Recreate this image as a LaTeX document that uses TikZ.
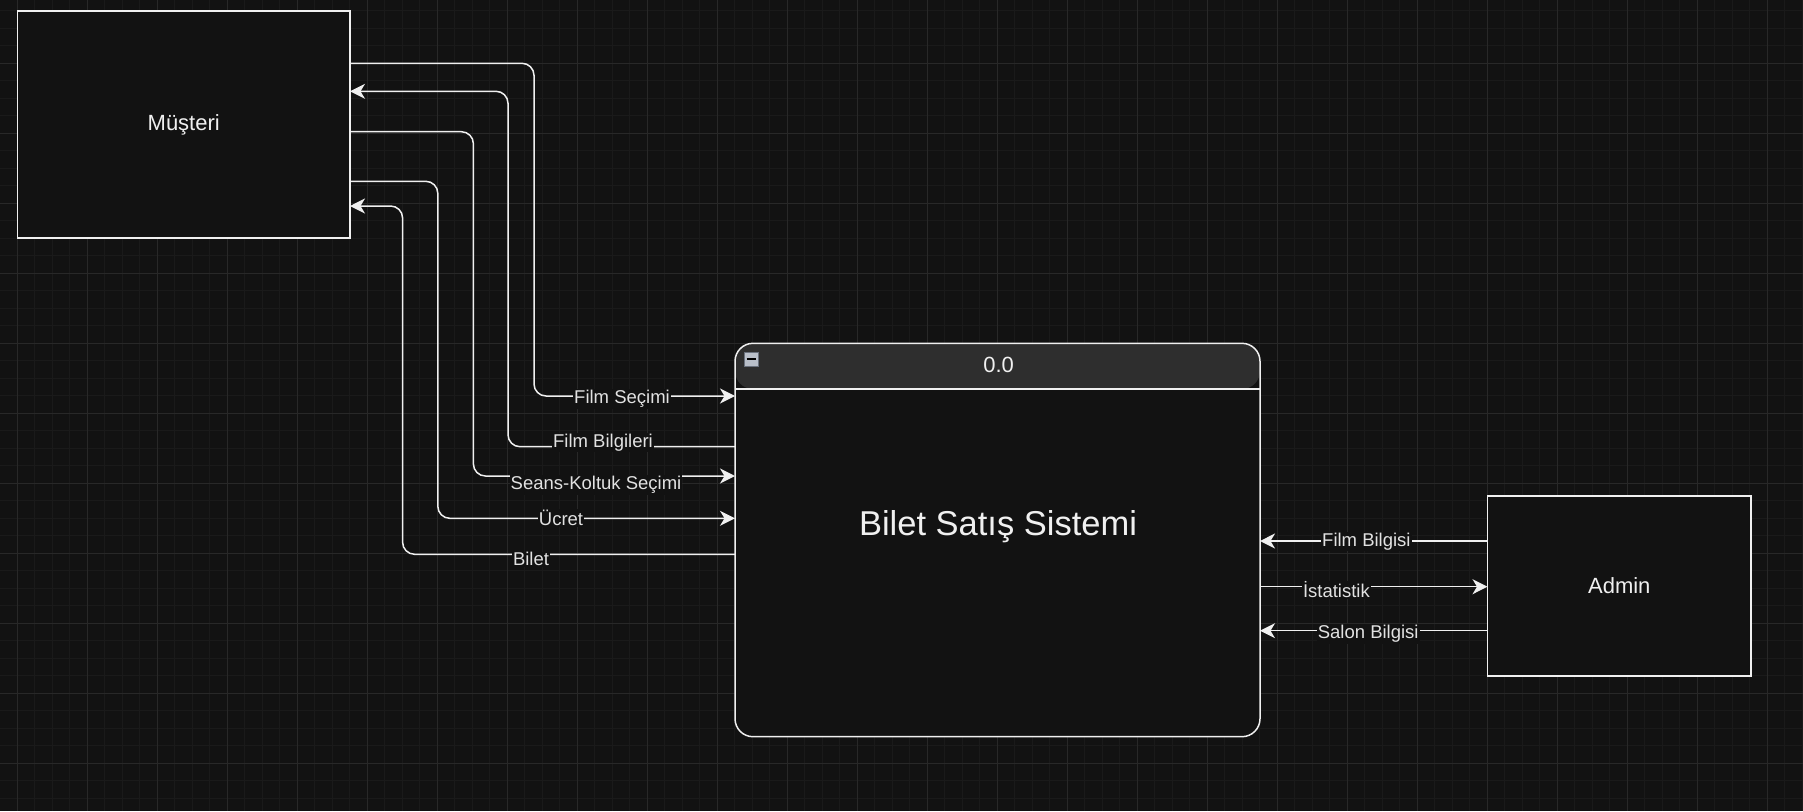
\documentclass[tikz,border=0pt]{standalone}
\usepackage{fontspec}
\setmainfont{Liberation Sans}
\usetikzlibrary{arrows.meta}
\definecolor{bgc}{HTML}{121212}
\definecolor{minorc}{HTML}{1A1A1A}
\definecolor{majorc}{HTML}{282828}
\definecolor{strk}{HTML}{F0F0F0}
\definecolor{lblc}{HTML}{E2E2E2}
\definecolor{headc}{HTML}{2E2E2E}
\definecolor{iconfill}{HTML}{B9BFC9}
\definecolor{icondraw}{HTML}{6A717D}
\begin{document}
\begin{tikzpicture}[x=1pt,y=-1pt,
  entity/.style={draw=strk, fill=bgc, line width=1.5pt, outer sep=0pt, inner sep=0pt,
    text=strk, font=\fontsize{22}{26}\selectfont},
  flow/.style={draw=strk, line width=1.5pt, rounded corners=12pt,
    -{Stealth[length=15pt,width=15pt,inset=4.5pt]}},
  lbl/.style={fill=bgc, text=lblc, inner sep=1pt, font=\fontsize{18.5}{22}\selectfont}
]
\useasboundingbox (0,0) rectangle (1803,811);
\fill[bgc] (0,0) rectangle (1803,811);
% grid
\foreach \k in {0,...,103} {\draw[minorc, line width=1pt] ({17.5*\k-0.3},0) -- ({17.5*\k-0.3},811);}
\foreach \k in {-1,...,46} {\draw[minorc, line width=1pt] (0,{10.8+17.5*\k}) -- (1803,{10.8+17.5*\k});}
\foreach \k in {1,5,...,101} {\draw[majorc, line width=1pt] ({17.5*\k-0.3},0) -- ({17.5*\k-0.3},811);}
\foreach \k in {-1,3,...,45} {\draw[majorc, line width=1pt] (0,{10.8+17.5*\k}) -- (1803,{10.8+17.5*\k});}

% nodes
\node[entity, minimum width=332.5pt, minimum height=227.2pt] (mus) at (183.75,124.4) {Müşteri};
\node[entity, minimum width=263.5pt, minimum height=180pt] (adm) at (1619.25,586) {Admin};
\node[draw=strk, fill=bgc, line width=1.5pt, outer sep=0pt, inner sep=0pt,
  rounded corners=18pt, minimum width=525pt, minimum height=393.4pt,
  path picture={\fill[headc] (path picture bounding box.north west) rectangle ([yshift=-45.7pt]path picture bounding box.north east);}]
  (proc) at (997.5,540) {};
\coordinate (hdr) at (0,389);
\draw[strk, line width=1.5pt] (proc.west |- hdr) -- (proc.east |- hdr);
\node[text=strk, font=\fontsize{22}{26}\selectfont] (num) at (998.6,365) {0.0};
\node[text=strk, font=\fontsize{34.5}{40}\selectfont] (title) at (998,526.7) {Bilet Satış Sistemi};
\node[draw=icondraw, fill=iconfill, line width=1pt, minimum size=14pt, inner sep=0pt] (col) at (751,359) {};
\draw[black, line width=2pt] ([xshift=-4.5pt]col.center) -- ([xshift=4.5pt]col.center);

% bend coordinates
\coordinate (b1) at (534,63.3);   \coordinate (c1) at (0,396);
\coordinate (b2) at (508,91.3);   \coordinate (c2) at (0,446.7);
\coordinate (b3) at (473.4,131.7);\coordinate (c3) at (0,476);
\coordinate (b4) at (437.8,181.3);\coordinate (c4) at (0,518.3);
\coordinate (b5) at (402.6,206);  \coordinate (c5) at (0,554.3);
\coordinate (r1) at (0,541);
\coordinate (r2) at (0,586.7);
\coordinate (r3) at (0,630.7);

% left flows
\draw[flow] (mus.east |- b1) -- (b1) |- (proc.west |- c1);
\draw[flow] (proc.west |- c2) -| (b2) -- (mus.east |- b2);
\draw[flow] (mus.east |- b3) -- (b3) |- (proc.west |- c3);
\draw[flow] (mus.east |- b4) -- (b4) |- (proc.west |- c4);
\draw[flow] (proc.west |- c5) -| (b5) -- (mus.east |- b5);
% right flows
\draw[flow] (adm.west |- r1) -- (proc.east |- r1);
\draw[flow] (proc.east |- r2) -- (adm.west |- r2);
\draw[flow] (adm.west |- r3) -- (proc.east |- r3);

% labels
\node[lbl] (l1) at (622,399) {Film Seçimi};
\node[lbl] (l2) at (603,442.3) {Film Bilgileri};
\node[lbl] (l3) at (596,485) {Seans-Koltuk Seçimi};
\node[lbl] (l4) at (561,518) {Ücret};
\node[lbl] (l5) at (531,559.3) {Bilet};
\node[lbl] (l6) at (1366.4,541.7) {Film Bilgisi};
\node[lbl] (l7) at (1336.4,590) {İstatistik};
\node[lbl] (l8) at (1368.2,634) {Salon Bilgisi};
\end{tikzpicture}
\end{document}
